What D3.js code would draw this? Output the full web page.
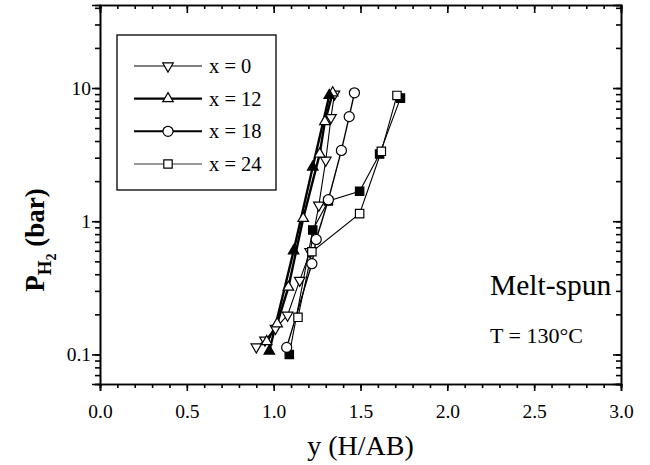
<!DOCTYPE html>
<html><head><meta charset="utf-8">
<script src="https://cdn.jsdelivr.net/npm/d3@7"></script>
<style>
html,body{margin:0;padding:0;background:#fff;}
svg{display:block;}
text{font-family:"Liberation Serif","Times New Roman",serif;fill:#000;}
</style></head>
<body>
<svg id="c" width="650" height="465"></svg>
<script>
// ---- data ----
const categories = ["x = 0", "x = 12", "x = 18", "x = 24"];
const xTickLabels = ["0.0", "0.5", "1.0", "1.5", "2.0", "2.5", "3.0"];
const yTickLabels = ["0.1", "1", "10"];

// x = 0 (open down-triangles)
const x0_H = [0.90, 0.95, 1.01, 1.08, 1.15, 1.21, 1.26, 1.30, 1.33, 1.35];
const x0_P = [0.114, 0.128, 0.157, 0.197, 0.36, 0.59, 1.32, 2.87, 6.0, 9.0];
// x = 12 absorption (open up-triangles)
const x12a_H = [0.96, 1.02, 1.085, 1.17, 1.265, 1.295, 1.34];
const x12a_P = [0.125, 0.17, 0.32, 1.05, 3.2, 5.6, 9.2];
// x = 12 desorption (filled up-triangles)
const x12d_H = [0.975, 1.115, 1.225, 1.32];
const x12d_P = [0.106, 0.6, 2.55, 8.8];
// x = 18 (open circles)
const x18_H = [1.075, 1.22, 1.245, 1.315, 1.39, 1.435, 1.465];
const x18_P = [0.113, 0.48, 0.73, 1.45, 3.4, 6.1, 9.2];
// x = 24 absorption (open squares)
const x24a_H = [1.14, 1.22, 1.495, 1.62, 1.71];
const x24a_P = [0.19, 0.59, 1.14, 3.35, 8.8];
// x = 24 desorption (filled squares)
const x24d_H = [1.09, 1.225, 1.315, 1.495, 1.61, 1.73];
const x24d_P = [0.10, 0.86, 1.42, 1.68, 3.2, 8.4];

// ---- layout ----
const L = 100, R = 621, T = 5, B = 384;
const svg = d3.select("#c");
const x = d3.scaleLinear().domain([0, 3]).range([L, R]);
const y = d3.scaleLog().domain([0.06, 42]).range([B, T]);

const zip = (a, b) => a.map((v, i) => [v, b[i]]);
const series = [
  {key: "x0", pts: zip(x0_H, x0_P), sym: "tri", rot: 180, fill: "#fff", lw: 1.1},
  {key: "x24d", pts: zip(x24d_H, x24d_P), sym: "sq", rot: 0, fill: "#000", lw: 1.1},
  {key: "x24a", pts: zip(x24a_H, x24a_P), sym: "sq", rot: 0, fill: "#fff", lw: 1.1},
  {key: "x18", pts: zip(x18_H, x18_P), sym: "circ", rot: 0, fill: "#fff", lw: 1.4},
  {key: "x12a", pts: zip(x12a_H, x12a_P), sym: "tri", rot: 0, fill: "#fff", lw: 2.4},
  {key: "x12d", pts: zip(x12d_H, x12d_P), sym: "tri", rot: 0, fill: "#000", lw: 2.4}
];
const symType = {tri: d3.symbolTriangle, sq: d3.symbolSquare, circ: d3.symbolCircle};
const symSize = {tri: 48, sq: 70, circ: 80};

// ---- axes ----
const minorX = d3.range(0, 31).map(i => i / 10);
const majorX = xTickLabels.map(Number);
const decades = [0.01, 0.1, 1, 10];
const minorY = [];
decades.forEach(d => { for (let k = 1; k <= 9; k++) { const v = +(d * k).toPrecision(3); if (v >= 0.06 && v <= 42) minorY.push(v); } });
const majorY = yTickLabels.map(Number);

function styleAxis(g) {
  g.selectAll("path.domain").attr("stroke", "#000").attr("stroke-width", 1.6);
  g.selectAll(".tick line").attr("stroke", "#000").attr("stroke-width", 1.6);
  g.selectAll(".tick text").style("font-family", "Liberation Serif").style("font-size", "19.5px").attr("fill", "#000");
}
// bottom
svg.append("g").attr("transform", `translate(0,${B})`)
  .call(d3.axisBottom(x).tickValues(minorX).tickSize(4).tickFormat("")).call(styleAxis);
svg.append("g").attr("transform", `translate(0,${B})`)
  .call(d3.axisBottom(x).tickValues(majorX).tickSize(7).tickPadding(13).tickFormat((d, i) => xTickLabels[i])).call(styleAxis);
// top
svg.append("g").attr("transform", `translate(0,${T})`)
  .call(d3.axisTop(x).tickValues(minorX).tickSize(-4).tickFormat("")).call(styleAxis);
svg.append("g").attr("transform", `translate(0,${T})`)
  .call(d3.axisTop(x).tickValues(majorX).tickSize(-8).tickFormat("")).call(styleAxis);
// left
svg.append("g").attr("transform", `translate(${L},0)`)
  .call(d3.axisLeft(y).tickValues(minorY).tickSize(5).tickFormat("")).call(styleAxis);
svg.append("g").attr("transform", `translate(${L},0)`)
  .call(d3.axisLeft(y).tickValues(majorY).tickSize(8).tickPadding(1).tickFormat((d, i) => yTickLabels[i])).call(styleAxis);
// right
svg.append("g").attr("transform", `translate(${R},0)`)
  .call(d3.axisRight(y).tickValues(minorY).tickSize(-5).tickFormat("")).call(styleAxis);
svg.append("g").attr("transform", `translate(${R},0)`)
  .call(d3.axisRight(y).tickValues(majorY).tickSize(-8).tickFormat("")).call(styleAxis);

// ---- series ----
const line = d3.line().x(d => x(d[0])).y(d => y(d[1]));
const gPlot = svg.append("g");
series.forEach(s => {
  gPlot.append("path").datum(s.pts).attr("d", line)
    .attr("fill", "none").attr("stroke", "#000").attr("stroke-width", s.lw);
});
series.forEach(s => {
  gPlot.selectAll(null).data(s.pts).enter().append("path")
    .attr("d", d3.symbol().type(symType[s.sym]).size(symSize[s.sym]))
    .attr("transform", d => `translate(${x(d[0])},${y(d[1])}) rotate(${s.rot})`)
    .attr("fill", s.fill).attr("stroke", "#000").attr("stroke-width", 1.2);
});

// ---- legend ----
const lg = svg.append("g");
lg.append("rect").attr("x", 117).attr("y", 35).attr("width", 159).attr("height", 155)
  .attr("fill", "#fff").attr("stroke", "#000").attr("stroke-width", 1.3);
const legSpec = [
  {sym: "tri", rot: 180, lw: 1.1, col: "#000"},
  {sym: "tri", rot: 0, lw: 2.4, col: "#000"},
  {sym: "circ", rot: 0, lw: 2.0, col: "#000"},
  {sym: "sq", rot: 0, lw: 1.0, col: "#333"}
];
const ly = d3.scalePoint().domain(categories).range([66, 164]);
categories.forEach((c, i) => {
  const yy = ly(c);
  lg.append("line").attr("x1", 134).attr("x2", 202).attr("y1", yy).attr("y2", yy)
    .attr("stroke", legSpec[i].col).attr("stroke-width", legSpec[i].lw);
  lg.append("path").attr("d", d3.symbol().type(symType[legSpec[i].sym]).size(symSize[legSpec[i].sym]))
    .attr("transform", `translate(168,${yy}) rotate(${legSpec[i].rot})`)
    .attr("fill", "#fff").attr("stroke", "#000").attr("stroke-width", 1.2);
  lg.append("text").attr("x", 209).attr("y", yy + 7).style("font-size", "20.5px").text(c);
});

// ---- annotations ----
svg.append("text").attr("x", 490).attr("y", 295).style("font-size", "29.5px").text("Melt-spun");
svg.append("text").attr("x", 490).attr("y", 343).style("font-size", "22px").text("T = 130°C");

// ---- axis titles ----
svg.append("text").attr("x", (L + R) / 2).attr("y", 455).attr("text-anchor", "middle")
  .style("font-size", "28px").text("y (H/AB)");
const yl = svg.append("text").attr("transform", "translate(44,240) rotate(-90)")
  .attr("text-anchor", "middle").style("font-size", "27px").style("font-weight", "bold");
yl.append("tspan").text("P");
yl.append("tspan").attr("dy", 7).style("font-size", "19px").text("H");
yl.append("tspan").attr("dy", 5).style("font-size", "14px").text("2");
yl.append("tspan").attr("dy", -12).text(" (bar)");
</script>
</body></html>
